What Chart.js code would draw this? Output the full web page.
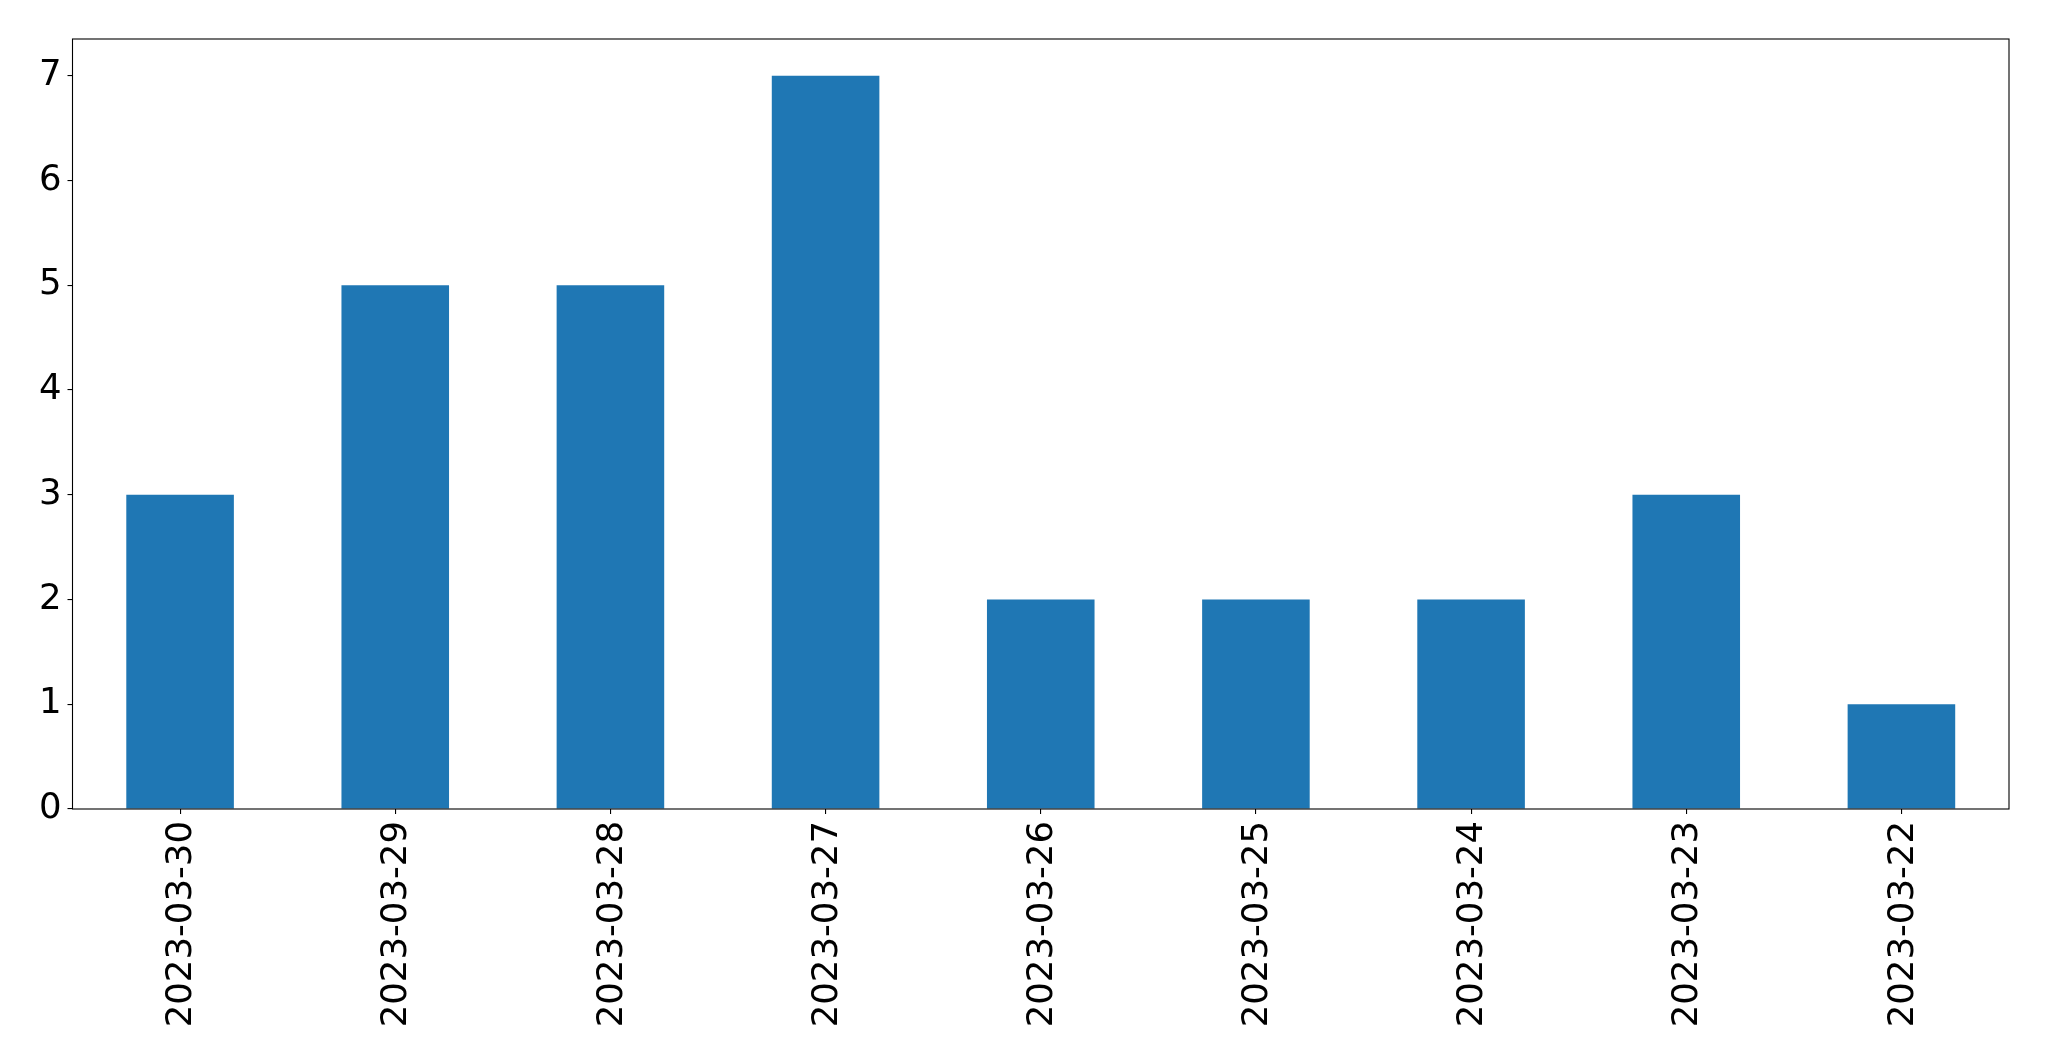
<!DOCTYPE html>
<html>
<head>
<meta charset="utf-8">
<script src="https://cdn.jsdelivr.net/npm/chart.js@4/dist/chart.umd.min.js"></script>
<style>
html,body{margin:0;padding:0;background:#fff;}
#wrap{width:2049px;height:1061px;}
</style>
</head>
<body>
<div id="wrap"><canvas id="c" width="2049" height="1061"></canvas></div>
<script>
const categories = ["2023-03-30","2023-03-29","2023-03-28","2023-03-27","2023-03-26","2023-03-25","2023-03-24","2023-03-23","2023-03-22"];
const counts = [3,5,5,7,2,2,2,3,1];
const yTickValues = [0,1,2,3,4,5,6,7];

const frame = {
  id: 'frame',
  afterDatasetsDraw(chart) {
    const a = chart.chartArea, ctx = chart.ctx;
    ctx.save();
    ctx.strokeStyle = '#000';
    ctx.lineWidth = 1.1;
    ctx.strokeRect(a.left, a.top, a.right - a.left, a.bottom - a.top);
    ctx.restore();
  }
};

new Chart(document.getElementById('c'), {
  type: 'bar',
  data: {
    labels: categories,
    datasets: [{
      data: counts,
      backgroundColor: '#1f77b4',
      borderWidth: 0,
      barPercentage: 0.5,
      categoryPercentage: 1.0
    }]
  },
  options: {
    responsive: false,
    animation: false,
    devicePixelRatio: 1,
    layout: { padding: { top: 39, right: 40, left: 0, bottom: 0 } },
    plugins: { legend: { display: false }, tooltip: { enabled: false } },
    scales: {
      x: {
        offset: true,
        grid: { offset: false, drawOnChartArea: false, color: '#000', tickLength: 5, lineWidth: 1.1 },
        border: { display: false },
        ticks: { color: '#000', font: { family: 'DejaVu Sans', size: 35.5 }, minRotation: 90, maxRotation: 90, padding: 7, labelOffset: 2, autoSkip: false },
        afterFit(s) { s.height = 1061 - 809; }
      },
      y: {
        min: 0,
        max: 7.35,
        grid: { drawOnChartArea: false, color: '#000', tickLength: 5, lineWidth: 1.1 },
        border: { display: false },
        ticks: { color: '#000', font: { family: 'DejaVu Sans', size: 35.5 }, padding: 6, stepSize: 1 },
        afterBuildTicks(s) { s.ticks = yTickValues.map(v => ({ value: v })); },
        afterFit(s) { s.width = 72.5; }
      }
    }
  },
  plugins: [frame]
});
</script>
</body>
</html>
